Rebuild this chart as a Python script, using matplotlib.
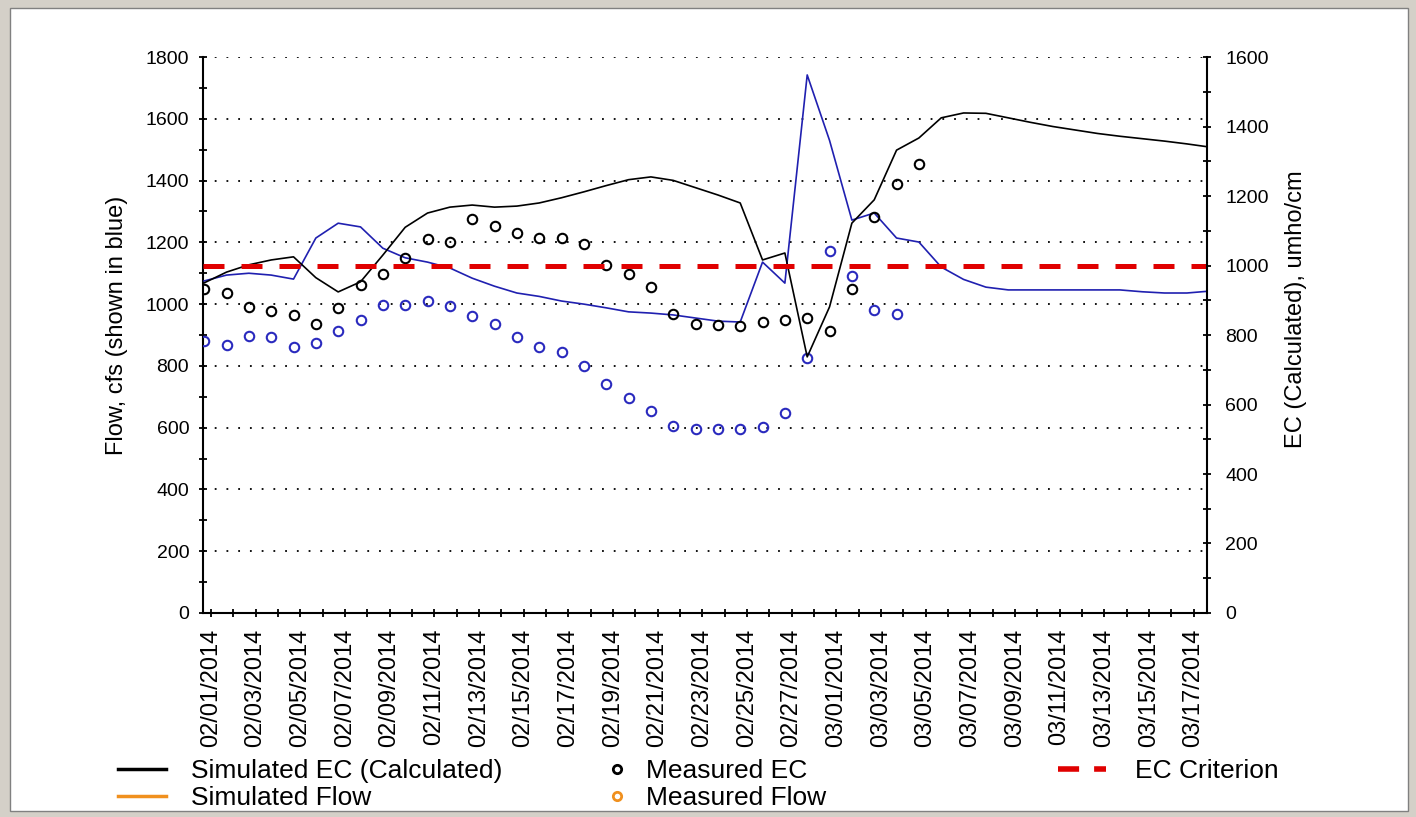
import numpy as np
import pandas as pd
import matplotlib
matplotlib.use('Agg')
from matplotlib import pyplot as plt
from matplotlib.lines import Line2D
from matplotlib.patches import Rectangle

plt.rcParams['font.family'] = ['Liberation Sans', 'DejaVu Sans']

# days since 02/01/2014
sim_days = list(range(46))
sim_ec = [950, 981, 1002, 1016, 1025, 965, 924, 953, 1030, 1110,
          1151, 1168, 1174, 1168, 1171, 1180, 1195, 1212, 1230, 1247,
          1255, 1245, 1224, 1203, 1180, 1016, 1036, 737, 881, 1122,
          1189, 1332, 1367, 1425, 1439, 1438, 1425, 1412, 1400, 1390,
          1380, 1372, 1365, 1358, 1350, 1341]
sim_flow = [1075, 1094, 1100, 1094, 1081, 1214, 1262, 1250, 1181, 1150,
            1136, 1117, 1084, 1058, 1036, 1025, 1010, 1000, 988, 975,
            971, 965, 955, 945, 942, 1136, 1068, 1742, 1530, 1272,
            1295, 1214, 1201, 1120, 1080, 1055, 1046, 1046, 1046, 1046,
            1046, 1046, 1040, 1036, 1036, 1042]

meas_ec = [932, 921, 881, 869, 858, 832, 878, 944, 976, 1022,
           1076, 1068, 1134, 1114, 1094, 1079, 1079, 1062, 1002, 976,
           938, 861, 832, 829, 826, 837, 843, 849, 812, 932,
           1140, 1235, 1292]
meas_flow = [880, 868, 897, 893, 861, 874, 913, 948, 997, 997,
             1010, 994, 961, 935, 893, 861, 845, 800, 741, 696,
             654, 605, 596, 596, 596, 602, 647, 825, 1172, 1091,
             981, 968]
ec_criterion = 1000

tick_labels = pd.date_range('2014-02-01', '2014-03-17', freq='2D').strftime('%m/%d/%Y')

fig = plt.figure(figsize=(14.16, 8.17), dpi=100)
fig.patch.set_facecolor('#d4d0c8')
fig.patches.append(Rectangle((10 / 1416, 6 / 817), 1398 / 1416, 803 / 817,
                             transform=fig.transFigure, facecolor='white',
                             edgecolor='#808080', linewidth=1, zorder=-10))

ax = fig.add_axes([0.1434, 0.2497, 0.709, 0.6805])
ax2 = ax.twinx()

blue = '#2020b0'
ax.plot(sim_days, sim_flow, color=blue, lw=1.2, zorder=3)
ax.plot(range(len(meas_flow)), meas_flow, 'o', mfc='none', mec='#2a2abe',
        ms=6.8, mew=1.5, zorder=4)
ax2.plot(sim_days, sim_ec, color='black', lw=1.2)
ax2.plot(range(len(meas_ec)), meas_ec, 'o', mfc='none', mec='black',
         ms=6.8, mew=1.5)
ax2.axhline(ec_criterion, color='#e00000', lw=3.6, dashes=(4.2, 3.4))

ax.set_ylim(0, 1800)
ax2.set_ylim(0, 1600)
ax.set_xlim(-0.05, 44.9)
ax.set_facecolor('none')

ax.set_yticks(range(0, 1801, 200))
ax.set_yticks(range(100, 1800, 200), minor=True)
ax2.set_yticks(range(0, 1601, 200))
ax2.set_yticks(range(100, 1600, 200), minor=True)
ax.set_xticks(np.arange(0, 45, 2) + 0.3)
ax.set_xticklabels(tick_labels, rotation=90)
ax.set_xticks(np.arange(1, 45, 2) + 0.3, minor=True)

ax.grid(axis='y', color='black', linestyle=(0, (1, 5.5)), lw=1.3)

for a in (ax, ax2):
    a.spines['top'].set_visible(False)
    for s in a.spines.values():
        s.set_linewidth(1.5)
    a.tick_params(which='both', direction='inout', length=6, width=1.3)
ax.spines['right'].set_visible(False)
ax2.spines['left'].set_visible(False)
ax2.spines['bottom'].set_visible(False)
ax.tick_params(axis='y', labelsize=14, pad=7)
ax2.tick_params(axis='y', labelsize=14, pad=10)
ax.tick_params(axis='x', labelsize=17, pad=8)

ax.set_ylabel('Flow, cfs (shown in blue)', fontsize=17)
ax2.set_ylabel('EC (Calculated), umho/cm', fontsize=17)
ax.yaxis.set_label_coords(-0.0747, 0.518)
ax2.yaxis.set_label_coords(1.0777, 0.547)

orange = '#f0901e'
col1 = [Line2D([], [], color='black', lw=2.5),
        Line2D([], [], color=orange, lw=2.5)]
col2 = [Line2D([], [], ls='none', marker='o', mfc='none', mec='black', ms=6, mew=2),
        Line2D([], [], ls='none', marker='o', mfc='none', mec=orange, ms=6, mew=2)]
col3 = [Line2D([], [], color='#e00000', lw=4, dashes=(3.8, 2.7))]

leg_kw = dict(frameon=False, fontsize=19, labelspacing=0.12, borderaxespad=0,
              borderpad=0, loc='upper left')
fig.legend(col1, ['Simulated EC (Calculated)', 'Simulated Flow'],
           bbox_to_anchor=(118 / 1416, 1 - 759 / 817), handlelength=1.8,
           handletextpad=0.95, **leg_kw)
fig.legend(col2, ['Measured EC', 'Measured Flow'],
           bbox_to_anchor=(600 / 1416, 1 - 759 / 817), handlelength=1.29,
           handletextpad=0.45, **leg_kw)
fig.legend(col3, ['EC Criterion'],
           bbox_to_anchor=(1058 / 1416, 1 - 759 / 817), handlelength=1.8,
           handletextpad=1.1, **leg_kw)

fig.savefig('out.png', dpi=100, facecolor=fig.get_facecolor())
